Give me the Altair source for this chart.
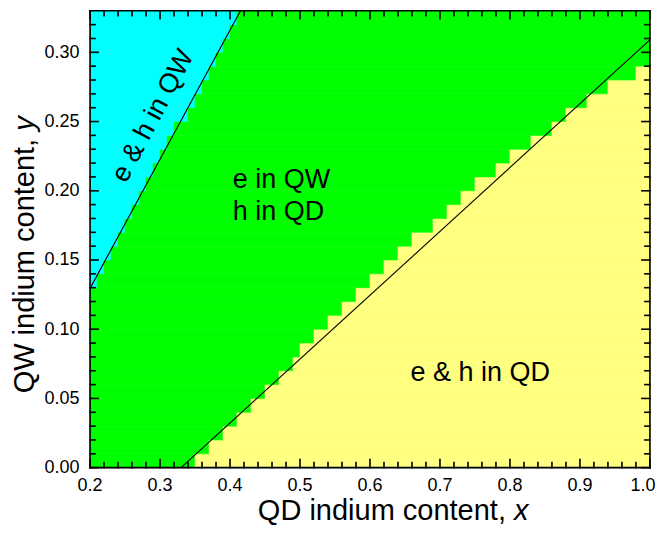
import altair as alt
import pandas as pd

# ---- data ----
# grid rows (bottom edge of each 0.01-high row of cells)
row_y = [0.00, 0.01, 0.02, 0.03, 0.04, 0.05, 0.06, 0.07, 0.08, 0.09, 0.10,
         0.11, 0.12, 0.13, 0.14, 0.15, 0.16, 0.17, 0.18, 0.19, 0.20, 0.21,
         0.22, 0.23, 0.24, 0.25, 0.26, 0.27, 0.28, 0.29, 0.30, 0.31, 0.32]
# right end of the cyan region ("e & h in QW") in each row
cyan_end = [0.20, 0.20, 0.20, 0.20, 0.20, 0.20, 0.20, 0.20, 0.20, 0.20, 0.20,
            0.20, 0.20, 0.21, 0.22, 0.23, 0.24, 0.25, 0.26, 0.27, 0.28, 0.29,
            0.30, 0.31, 0.32, 0.34, 0.35, 0.36, 0.37, 0.38, 0.39, 0.40, 0.41]
# left start of the yellow region ("e & h in QD") in each row
yellow_start = [0.35, 0.37, 0.39, 0.41, 0.43, 0.45, 0.47, 0.49, 0.50, 0.52, 0.54,
                0.56, 0.58, 0.60, 0.62, 0.64, 0.66, 0.69, 0.71, 0.73, 0.75, 0.78,
                0.80, 0.83, 0.86, 0.88, 0.91, 0.94, 0.98, 1.00, 1.00, 1.00, 1.00]
ROW_H = 0.01
X_MIN, X_MAX = 0.2, 1.0
Y_MIN, Y_MAX = 0.0, 0.33

# boundary lines (end points)
upper_x = [0.200, 0.415]
upper_y = [0.1295, 0.330]
lower_x = [0.330, 1.000]
lower_y = [0.000, 0.309]

x_major = [0.2, 0.3, 0.4, 0.5, 0.6, 0.7, 0.8, 0.9]
x_major_labels = ["0.2", "0.3", "0.4", "0.5", "0.6", "0.7", "0.8", "0.9"]
x_last = [1.0]
x_last_label = ["1.0"]
x_minor = [0.22, 0.24, 0.26, 0.28, 0.32, 0.34, 0.36, 0.38, 0.42, 0.44, 0.46, 0.48,
           0.52, 0.54, 0.56, 0.58, 0.62, 0.64, 0.66, 0.68, 0.72, 0.74, 0.76, 0.78,
           0.82, 0.84, 0.86, 0.88, 0.92, 0.94, 0.96, 0.98]
y_major = [0.00, 0.05, 0.10, 0.15, 0.20, 0.25, 0.30]
y_minor = [0.01, 0.02, 0.03, 0.04, 0.06, 0.07, 0.08, 0.09, 0.11, 0.12, 0.13, 0.14,
           0.16, 0.17, 0.18, 0.19, 0.21, 0.22, 0.23, 0.24, 0.26, 0.27, 0.28, 0.29,
           0.31, 0.32]

labels_text = ["e in QW", "h in QD", "e & h in QD"]
labels_x = [0.404, 0.404, 0.658]
labels_y = [0.2075, 0.1845, 0.068]

rot_text = ["e & h in QW"]
rot_x = [0.29]
rot_y = [0.254]

# ---- layout (page is slightly wider than the window; sizes compensate) ----
S = 664 / 671.0
def P(v):
    return v / S

FONT = "Liberation Sans"
LEFT = round(P(90) - 8, 2)
TOP = 0
W = round(P(650) - P(90), 1)
H = round(P(465) - P(8), 1)
CANVAS_W = 655
CANVAS_H = 523
RIGHT = round(CANVAS_W - LEFT - W, 2)
BOTTOM = round(CANVAS_H - TOP - H, 2)
LBL = round(P(27), 2)
TICKF = round(P(18), 2)
TS = round(P(29), 2)

# ---- build tables ----
cells = []
for y0, ce, ys in zip(row_y, cyan_end, yellow_start):
    y1 = min(y0 + ROW_H, Y_MAX)
    cells.append(dict(x0=X_MIN, x1=ce, y0=y0, y1=y1, region="cyan"))
    cells.append(dict(x0=ce, x1=ys, y0=y0, y1=y1, region="green"))
    cells.append(dict(x0=ys, x1=X_MAX, y0=y0, y1=y1, region="yellow"))
cells = pd.DataFrame(cells)

lines = pd.DataFrame(
    [dict(x=a, y=b, k="upper") for a, b in zip(upper_x, upper_y)]
    + [dict(x=a, y=b, k="lower") for a, b in zip(lower_x, lower_y)]
)

xs = alt.Scale(domain=[X_MIN, X_MAX], nice=False, zero=False)
ys_ = alt.Scale(domain=[Y_MIN, Y_MAX], nice=False, zero=False)
cscale = alt.Scale(domain=["cyan", "green", "yellow"],
                   range=["#00FFFF", "#00FF00", "#FFFF80"])

rects = alt.Chart(cells).mark_rect(strokeWidth=0.6).encode(
    x=alt.X("x0:Q", scale=xs, axis=None),
    x2="x1:Q",
    y=alt.Y("y0:Q", scale=ys_,
            axis=alt.Axis(values=y_major, format=".2f", ticks=False, domain=False,
                          grid=False, labelFontSize=TICKF, labelPadding=round(P(11), 2),
                          labelFlush=False, labelColor="black", labelFont=FONT,
                          title=None)),
    y2="y1:Q",
    color=alt.Color("region:N", legend=None, scale=cscale),
    stroke=alt.Stroke("region:N", legend=None, scale=cscale),
)

# x tick labels
xl = alt.Chart(pd.DataFrame(dict(v=x_major, t=x_major_labels))).mark_text(
    align="center", baseline="top", fontSize=TICKF, font=FONT, color="black").encode(
    x=alt.X("v:Q", scale=xs), y=alt.value(H + P(9)), text="t:N")
xl_last = alt.Chart(pd.DataFrame(dict(v=x_last, t=x_last_label))).mark_text(
    align="center", baseline="top", fontSize=TICKF, font=FONT, color="black",
    dx=-7).encode(
    x=alt.X("v:Q", scale=xs), y=alt.value(H + P(9)), text="t:N")

line_marks = alt.Chart(lines).mark_line(color="black", strokeWidth=P(1.1)).encode(
    x=alt.X("x:Q", scale=xs), y=alt.Y("y:Q", scale=ys_), detail="k:N"
)

lab_df = pd.DataFrame(dict(t=labels_text, x=labels_x, y=labels_y))
labels = alt.Chart(lab_df).mark_text(align="left", baseline="middle", fontSize=LBL,
                                     font=FONT, color="black").encode(
    x=alt.X("x:Q", scale=xs), y=alt.Y("y:Q", scale=ys_), text="t:N")

rot_df = pd.DataFrame(dict(t=rot_text, x=rot_x, y=rot_y))
rot_label = alt.Chart(rot_df).mark_text(align="center", baseline="middle", fontSize=LBL,
                                        angle=298, font=FONT, color="black").encode(
    x=alt.X("x:Q", scale=xs), y=alt.Y("y:Q", scale=ys_), text="t:N")

# ---- inward ticks on all four sides + frame, as 2-point line segments ----
def px_y(n):
    return P(n) / H * (Y_MAX - Y_MIN)

def px_x(n):
    return P(n) / W * (X_MAX - X_MIN)

segs = []
def seg(xa, ya, xb, yb):
    i = len(segs)
    segs.append(dict(x=xa, y=ya, id=i, o=0))
    segs.append(dict(x=xb, y=yb, id=i, o=1))

for vals, n in ((x_major + x_last, 8), (x_minor, 5)):
    for v in vals:
        seg(v, Y_MIN, v, Y_MIN + px_y(n))
        seg(v, Y_MAX, v, Y_MAX - px_y(n))
for vals, n in ((y_major, 8), (y_minor, 5)):
    for v in vals:
        seg(X_MIN, v, X_MIN + px_x(n), v)
        seg(X_MAX, v, X_MAX - px_x(n), v)
seg(X_MIN, Y_MIN, X_MAX, Y_MIN)
seg(X_MIN, Y_MAX, X_MAX, Y_MAX)
seg(X_MIN, Y_MIN, X_MIN, Y_MAX)
seg(X_MAX, Y_MIN, X_MAX, Y_MAX)

ticks = alt.Chart(pd.DataFrame(segs)).mark_line(
    color="#000000", strokeWidth=round(P(1.6), 2), strokeCap="square").encode(
    x=alt.X("x:Q", scale=xs), y=alt.Y("y:Q", scale=ys_),
    detail="id:N", order="o:Q")

# ---- axis titles with italic variable ----
def title_parts(main, var, size, ax, ay, angle, gap):
    t1 = alt.Chart(pd.DataFrame(dict(t=[main]))).mark_text(
        align="right", baseline="middle", fontSize=size, font=FONT, angle=angle,
        color="black").encode(text="t:N", x=alt.value(ax), y=alt.value(ay))
    if angle == 0:
        bx, by = ax + gap, ay
    else:
        bx, by = ax, ay - gap
    t2 = alt.Chart(pd.DataFrame(dict(t=[var]))).mark_text(
        align="left", baseline="middle", fontSize=size, font=FONT, fontStyle="italic",
        angle=angle, color="black").encode(text="t:N", x=alt.value(bx), y=alt.value(by))
    return t1 + t2

xtitle = title_parts("QD indium content,", "x", TS,
                     round(P(416), 1), 506, 0, round(P(8), 1))
ytitle = title_parts("QW indium content,", "y", TS,
                     round(-P(65), 1), round(P(136) - 8, 1), 270, round(P(8), 1))

chart = alt.layer(
    rects, line_marks, labels, rot_label, xl, xl_last, xtitle, ytitle, ticks
).properties(
    width=W, height=H,
    autosize=alt.AutoSizeParams(type="none"),
    padding={"left": LEFT, "top": TOP, "right": RIGHT, "bottom": BOTTOM},
).configure_view(stroke=None).configure(background="white")

chart.save("out.html", embed_options={"renderer": "svg", "actions": False})
